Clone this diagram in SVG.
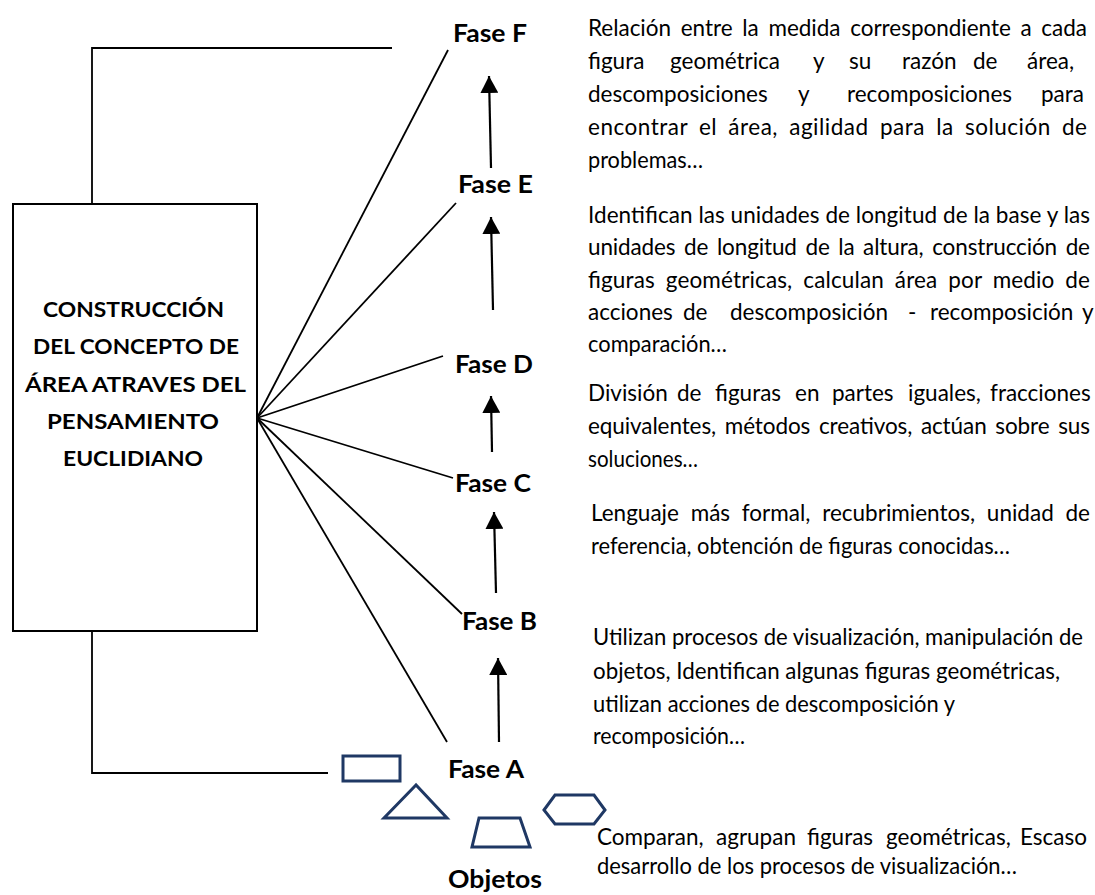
<svg xmlns="http://www.w3.org/2000/svg" width="1095" height="895" viewBox="0 0 1095 895">
<defs>
<style>
.bg{fill:#fff}
.box{fill:#fff;stroke:#000;stroke-width:2}
.ln{fill:none;stroke:#000;stroke-width:1.8}
.arr{fill:none;stroke:#000;stroke-width:2.2}
.shp{fill:none;stroke:#1f3864;stroke-width:3;stroke-linejoin:miter}
.lbl{font-family:Lato,"Liberation Sans",sans-serif;font-weight:bold;font-size:24px;fill:#000}
.bt{font-family:Lato,"Liberation Sans",sans-serif;font-weight:bold;font-size:21px;fill:#000;text-anchor:start}
.tx{font-family:Lato,"Liberation Sans",sans-serif;font-size:22.5px;fill:#000}
</style>
<marker id="ah" viewBox="0 0 17 18" markerWidth="17" markerHeight="18" refX="17" refY="9" orient="auto" markerUnits="userSpaceOnUse">
<path d="M0,0 L17,9 L0,18 Z" fill="#000"/>
</marker>
</defs>
<rect class="bg" x="0" y="0" width="1095" height="895"/>

<g id="connectors">
<polyline class="ln" points="92,204 92,48 392,48"/>
<polyline class="ln" points="92,631 92,773 328,773"/>
<line class="ln" x1="257" y1="418" x2="448" y2="50"/>
<line class="ln" x1="257" y1="418" x2="456" y2="203"/>
<line class="ln" x1="257" y1="418" x2="443" y2="356"/>
<line class="ln" x1="257" y1="418" x2="453" y2="478"/>
<line class="ln" x1="257" y1="418" x2="462" y2="614"/>
<line class="ln" x1="257" y1="418" x2="447" y2="742"/>
<line class="arr" x1="499" y1="742" x2="498" y2="658" marker-end="url(#ah)"/>
<line class="arr" x1="496" y1="593" x2="494" y2="512" marker-end="url(#ah)"/>
<line class="arr" x1="492" y1="452" x2="491" y2="396" marker-end="url(#ah)"/>
<line class="arr" x1="493" y1="310" x2="491" y2="217" marker-end="url(#ah)"/>
<line class="arr" x1="491" y1="168" x2="489" y2="76" marker-end="url(#ah)"/>
</g>

<g id="concept">
<rect class="box" x="13" y="204" width="244" height="427"/>
<text class="bt" x="43" y="317" textLength="181" lengthAdjust="spacingAndGlyphs">CONSTRUCCIÓN</text>
<text class="bt" x="33" y="354" textLength="206" lengthAdjust="spacingAndGlyphs">DEL CONCEPTO DE</text>
<text class="bt" x="25" y="392" textLength="221" lengthAdjust="spacingAndGlyphs">ÁREA ATRAVES DEL</text>
<text class="bt" x="47" y="429" textLength="172" lengthAdjust="spacingAndGlyphs">PENSAMIENTO</text>
<text class="bt" x="63" y="466" textLength="140" lengthAdjust="spacingAndGlyphs">EUCLIDIANO</text>
</g>

<g id="fase-f"><text class="lbl" x="453" y="42" textLength="74" lengthAdjust="spacingAndGlyphs">Fase F</text></g>
<g id="fase-e"><text class="lbl" x="458" y="193" textLength="75" lengthAdjust="spacingAndGlyphs">Fase E</text></g>
<g id="fase-d"><text class="lbl" x="455" y="373" textLength="78" lengthAdjust="spacingAndGlyphs">Fase D</text></g>
<g id="fase-c"><text class="lbl" x="455" y="492" textLength="76" lengthAdjust="spacingAndGlyphs">Fase C</text></g>
<g id="fase-b"><text class="lbl" x="462" y="630" textLength="75" lengthAdjust="spacingAndGlyphs">Fase B</text></g>
<g id="fase-a"><text class="lbl" x="448" y="778" textLength="76" lengthAdjust="spacingAndGlyphs">Fase A</text></g>
<g id="objetos"><text class="lbl" x="448" y="888" textLength="94" lengthAdjust="spacingAndGlyphs">Objetos</text></g>

<g id="shapes">
<rect class="shp" x="343" y="756" width="57" height="25"/>
<polygon class="shp" points="416,785 384,818 447,818"/>
<polygon class="shp" points="479,818 520,818 530,847 472,847"/>
<polygon class="shp" points="544,810 555,795 594,795 605,810 594,824 555,824"/>
</g>

<g id="desc-f">
<text class="tx" x="588" y="36" textLength="499" lengthAdjust="spacing" word-spacing="4">Relación entre la medida correspondiente a cada</text>
<text class="tx" y="69"><tspan x="588">figura</tspan><tspan x="670">geométrica</tspan><tspan x="813">y</tspan><tspan x="849">su</tspan><tspan x="902">razón</tspan><tspan x="973">de</tspan><tspan x="1027">área,</tspan></text>
<text class="tx" y="102"><tspan x="588">descomposiciones</tspan><tspan x="798">y</tspan><tspan x="847">recomposiciones</tspan><tspan x="1041">para</tspan></text>
<text class="tx" x="588" y="135" textLength="499" lengthAdjust="spacing" word-spacing="5">encontrar el área, agilidad para la solución de</text>
<text class="tx" x="588" y="168" textLength="115" lengthAdjust="spacingAndGlyphs">problemas…</text>
</g>

<g id="desc-e">
<text class="tx" x="588" y="223" textLength="502" lengthAdjust="spacing">Identifican las unidades de longitud de la base y las</text>
<text class="tx" x="588" y="255" textLength="502" lengthAdjust="spacing" word-spacing="3">unidades de longitud de la altura, construcción de</text>
<text class="tx" x="588" y="288" textLength="502" lengthAdjust="spacing" word-spacing="5">figuras geométricas, calculan área por medio de</text>
<text class="tx" y="320"><tspan x="588">acciones</tspan><tspan x="683">de</tspan><tspan x="730">descomposición</tspan><tspan x="908">-</tspan><tspan x="930">recomposición</tspan><tspan x="1082">y</tspan></text>
<text class="tx" x="588" y="352" textLength="139" lengthAdjust="spacingAndGlyphs">comparación…</text>
</g>

<g id="desc-d">
<text class="tx" y="401"><tspan x="588">División</tspan><tspan x="677">de</tspan><tspan x="715">figuras</tspan><tspan x="795">en</tspan><tspan x="832">partes</tspan><tspan x="908">iguales,</tspan><tspan x="990">fracciones</tspan></text>
<text class="tx" x="588" y="434" textLength="502" lengthAdjust="spacing" word-spacing="3">equivalentes, métodos creativos, actúan sobre sus</text>
<text class="tx" x="588" y="467" textLength="110" lengthAdjust="spacingAndGlyphs">soluciones…</text>
</g>

<g id="desc-c">
<text class="tx" x="591" y="521" textLength="499" lengthAdjust="spacing" word-spacing="6">Lenguaje más formal, recubrimientos, unidad de</text>
<text class="tx" x="591" y="554" textLength="419" lengthAdjust="spacingAndGlyphs">referencia, obtención de figuras conocidas…</text>
</g>

<g id="desc-b">
<text class="tx" x="593" y="645" textLength="490" lengthAdjust="spacingAndGlyphs">Utilizan procesos de visualización, manipulación de</text>
<text class="tx" x="593" y="679" textLength="467" lengthAdjust="spacingAndGlyphs">objetos, Identifican algunas figuras geométricas,</text>
<text class="tx" x="593" y="712" textLength="362" lengthAdjust="spacingAndGlyphs">utilizan acciones de descomposición  y</text>
<text class="tx" x="593" y="744" textLength="152" lengthAdjust="spacingAndGlyphs">recomposición…</text>
</g>

<g id="desc-a">
<text class="tx" y="845"><tspan x="597">Comparan,</tspan><tspan x="716">agrupan</tspan><tspan x="807">figuras</tspan><tspan x="886">geométricas,</tspan><tspan x="1020">Escaso</tspan></text>
<text class="tx" x="597" y="874" textLength="420" lengthAdjust="spacingAndGlyphs">desarrollo de los procesos de visualización…</text>
</g>
</svg>
